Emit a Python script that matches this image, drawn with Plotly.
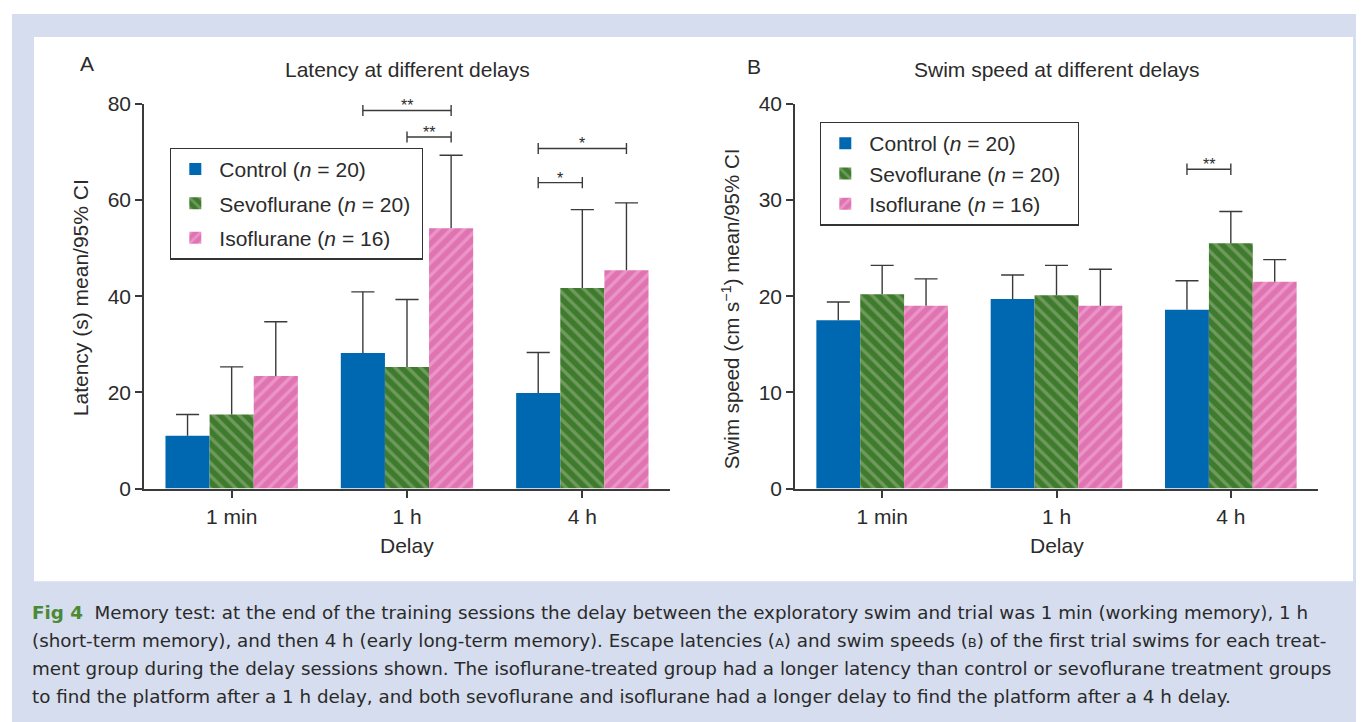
import plotly.graph_objects as go

W, H = 1364, 722

# ---------------- data ----------------
categories = ["1 min", "1 h", "4 h"]
group_names = ["Control", "Sevoflurane", "Isoflurane"]
group_n = [20, 20, 16]

# Panel A: latency (s), mean and upper 95% CI limit
latency_control = [11.0, 28.2, 19.9]
latency_control_hi = [15.4, 40.9, 28.3]
latency_sevo = [15.4, 25.3, 41.7]
latency_sevo_hi = [25.3, 39.3, 58.0]
latency_iso = [23.4, 54.1, 45.4]
latency_iso_hi = [34.7, 69.3, 59.4]

# Panel B: swim speed (cm/s), mean and upper 95% CI limit
speed_control = [17.5, 19.7, 18.6]
speed_control_hi = [19.4, 22.2, 21.6]
speed_sevo = [20.2, 20.1, 25.5]
speed_sevo_hi = [23.2, 23.2, 28.8]
speed_iso = [19.0, 19.0, 21.5]
speed_iso_hi = [21.8, 22.8, 23.8]

# significance brackets: category index, group from, group to, level, label
sigA_cat = [1, 1, 2, 2]
sigA_from = [0, 1, 0, 0]
sigA_to = [2, 2, 2, 1]
sigA_level = [78.6, 73.1, 70.7, 63.6]
sigA_label = ["**", "**", "*", "*"]

sigB_cat = [2]
sigB_from = [0]
sigB_to = [1]
sigB_level = [33.2]
sigB_label = ["**"]

caption_lines = [
    "Memory test: at the end of the training sessions the delay between the exploratory swim and trial was 1 min (working memory), 1 h",
    "(short-term memory), and then 4 h (early long-term memory). Escape latencies (<span style='font-size:13px'>A</span>) and swim speeds (<span style='font-size:13px'>B</span>) of the first trial swims for each treat-",
    "ment group during the delay sessions shown. The isoflurane-treated group had a longer latency than control or sevoflurane treatment groups",
    "to find the platform after a 1 h delay, and both sevoflurane and isoflurane had a longer delay to find the platform after a 4 h delay.",
]

# ---------------- styles ----------------
FONT = "Liberation Sans, Arial, sans-serif"
FS = 21
INK = "#2b2b2b"
AX = "#3a3a3a"
bar_base = ["#0067b1", "#3e7b2c", "#e073b2"]
bar_stripe = [None, "#a0b78e", "#f3b8d8"]
bar_shape = ["", "\\", "/"]

BARGAP = 0.245
BW = (1 - BARGAP) / 3.0


def px_x(v):
    return (v - 6) / W


def px_y(v):
    return 1 - ((v - 18) / 0.971) / H


dom_y = [px_y(488), px_y(102)]
domA = [px_x(142), px_x(668)]
domB = [px_x(793), px_x(1316)]

fig = go.Figure()


def add_panel(means, highs, xa, ya, legend, cap_half, pad):
    for k in range(3):
        name = f"{group_names[k]} (<i>n</i> = {group_n[k]})" + "\u00a0" * pad
        marker = dict(color=bar_base[k], line=dict(width=0))
        if bar_shape[k]:
            marker["pattern"] = dict(shape=bar_shape[k], fgcolor=bar_stripe[k],
                                     fillmode="overlay", size=9, solidity=0.38)
        fig.add_trace(go.Bar(
            x=list(range(len(categories))), y=means[k], name=name,
            marker=marker, xaxis=xa, yaxis=ya, legend=legend,
            legendgroup=f"{legend}-{k}", hoverinfo="skip"))
    # error bars (upper limit only)
    for k in range(3):
        xs, ys = [], []
        for i, (m, h) in enumerate(zip(means[k], highs[k])):
            xc = i + (k - 1) * BW
            xs += [xc, xc, None, xc - cap_half, xc + cap_half, None]
            ys += [m, h, None, h, h, None]
        fig.add_trace(go.Scatter(x=xs, y=ys, mode="lines",
                                 line=dict(color=AX, width=1.4),
                                 xaxis=xa, yaxis=ya, showlegend=False,
                                 hoverinfo="skip"))


def add_sig(cats, g_from, g_to, levels, labels, xa, ya, tick):
    xs, ys = [], []
    for c, a, b, lv, lab in zip(cats, g_from, g_to, levels, labels):
        x0 = c + (a - 1) * BW
        x1 = c + (b - 1) * BW
        xs += [x0, x0, None, x1, x1, None, x0, x1, None]
        ys += [lv - tick, lv + tick, None, lv - tick, lv + tick, None, lv, lv, None]
        fig.add_annotation(x=(x0 + x1) / 2, y=lv, xref=xa, yref=ya,
                           text=lab, showarrow=False, xanchor="center",
                           yanchor="bottom", yshift=-6,
                           font=dict(family=FONT, size=16, color=INK))
    fig.add_trace(go.Scatter(x=xs, y=ys, mode="lines",
                             line=dict(color=AX, width=1.4),
                             xaxis=xa, yaxis=ya, showlegend=False,
                             hoverinfo="skip"))


add_panel([latency_control, latency_sevo, latency_iso],
          [latency_control_hi, latency_sevo_hi, latency_iso_hi],
          "x", "y", "legend", 0.066, 1)
add_panel([speed_control, speed_sevo, speed_iso],
          [speed_control_hi, speed_sevo_hi, speed_iso_hi],
          "x2", "y2", "legend2", 0.066, 2)
add_sig(sigA_cat, sigA_from, sigA_to, sigA_level, sigA_label, "x", "y", 1.15)
add_sig(sigB_cat, sigB_from, sigB_to, sigB_level, sigB_label, "x2", "y2", 0.6)

tickfont = dict(family=FONT, size=FS, color=INK)
xcommon = dict(range=[-0.5, 2.5], tickvals=[0, 1, 2], ticktext=categories,
               showline=True, linecolor=AX, linewidth=1.5, ticks="outside",
               ticklen=8, tickwidth=1.5, tickcolor=AX, showgrid=False,
               zeroline=False, tickfont=tickfont, fixedrange=True)
ycommon = dict(showline=True, linecolor=AX, linewidth=1.5, ticks="outside",
               ticklen=7, tickwidth=1.5, tickcolor=AX, showgrid=False,
               zeroline=False, tickfont=tickfont, fixedrange=True)

legend_common = dict(xanchor="left", yanchor="top", bgcolor="white",
                     bordercolor="#333333", borderwidth=1.3,
                     font=dict(family=FONT, size=FS, color=INK),
                     traceorder="grouped", itemwidth=38)

fig.update_layout(
    width=W, height=H,
    margin=dict(l=0, r=0, t=0, b=0),
    paper_bgcolor="white", plot_bgcolor="rgba(0,0,0,0)",
    barmode="group", bargap=BARGAP, bargroupgap=0,
    xaxis=dict(domain=domA, anchor="y", **xcommon),
    yaxis=dict(domain=dom_y, anchor="x", range=[0, 80], tickvals=[0, 20, 40, 60, 80], **ycommon),
    xaxis2=dict(domain=domB, anchor="y2", **xcommon),
    yaxis2=dict(domain=dom_y, anchor="x2", range=[0, 40], tickvals=[0, 10, 20, 30, 40], **ycommon),
    legend=dict(x=px_x(168), y=px_y(146), tracegroupgap=4, **legend_common),
    legend2=dict(x=px_x(818), y=px_y(120), tracegroupgap=0, **legend_common),
    showlegend=True,
)

# background panels
fig.add_shape(type="rect", xref="paper", yref="paper", layer="below",
              x0=px_x(10), x1=1.05, y0=-0.05, y1=px_y(12),
              fillcolor="#d5ddee", line=dict(width=0))
fig.add_shape(type="rect", xref="paper", yref="paper", layer="below",
              x0=px_x(32), x1=px_x(1351), y0=px_y(581), y1=px_y(35),
              fillcolor="white", line=dict(width=0))


def ann(text, x, y, size=FS, **kw):
    fig.add_annotation(text=text, x=px_x(x), y=px_y(y), xref="paper", yref="paper",
                       xanchor="center", yanchor="middle", showarrow=False,
                       font=dict(family=FONT, size=size, color=INK), **kw)


ann("A", 85, 62)
ann("B", 752, 65)
ann("Latency at different delays", 405, 68)
ann("Swim speed at different delays", 1055, 68)
ann("Delay", 405, 545)
ann("Delay", 1055, 545)
ann("Latency (s) mean/95% CI", 78, 297, textangle=-90)
ann("Swim speed (cm s<sup>−1</sup>) mean/95% CI", 729, 308, textangle=-90, size=20.5)

CAP_FONT = "DejaVu Sans, Open Sans, sans-serif"
for j, line in enumerate(caption_lines):
    txt = line
    if j == 0:
        txt = "<b><span style='color:#4a8a35'>Fig 4</span></b>\u00a0 " + line
    fig.add_annotation(text=txt, x=px_x(28), y=px_y(612 + 28 * j), xref="paper", yref="paper",
                       xanchor="left", yanchor="middle", showarrow=False,
                       font=dict(family=CAP_FONT, size=18.3, color="#2a2a2a"))

fig.write_html("out.html")
